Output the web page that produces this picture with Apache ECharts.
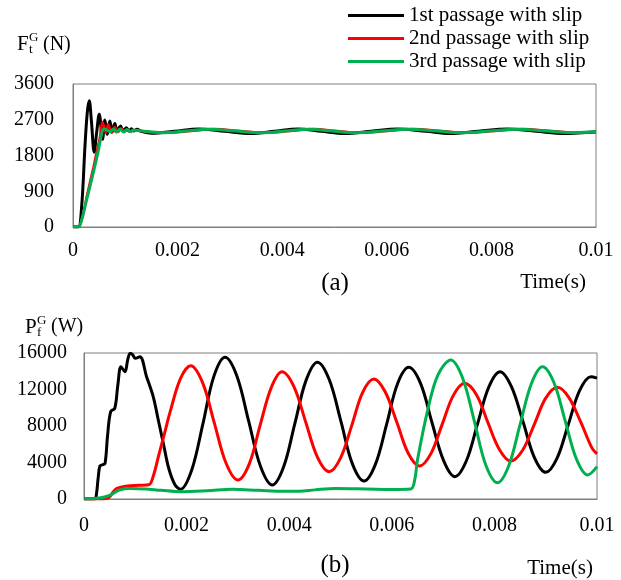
<!DOCTYPE html>
<html><head><meta charset="utf-8">
<script src="https://cdn.jsdelivr.net/npm/echarts@6/dist/echarts.min.js"></script>
<style>html,body{margin:0;padding:0;background:#fff}#c{width:621px;height:580px}</style>
</head><body><div id="c"></div>
<script>
const seriesNames = ['1st passage with slip', '2nd passage with slip', '3rd passage with slip'];
const seriesColors = ['#000000', '#ff0000', '#00b050'];

// (a) Ft^G (N) vs time (s)
const ftBlack = [[0,0],[0.0001,0],[0.000165,515],[0.000229,2036],[0.000273,2882],[0.000311,3178],[0.00035,2700],[0.000406,1884],[0.00045,2350],[0.000502,2839],[0.000565,2206],[0.00061,2695],[0.000654,2332],[0.000705,2670],[0.000749,2391],[0.0008,2603],[0.000844,2417],[0.000908,2543],[0.000959,2417],[0.001022,2501],[0.001067,2417],[0.001117,2476],[0.00116,2417],[0.001225,2459],[0.0013,2410],[0.0015,2360],[0.00195,2410],[0.0024,2470],[0.0029,2410],[0.0034,2355],[0.00385,2410],[0.0043,2470],[0.00475,2410],[0.0052,2355],[0.0057,2410],[0.0062,2465],[0.00675,2410],[0.0072,2355],[0.00775,2410],[0.0083,2465],[0.00885,2410],[0.0094,2355],[0.01,2400]];
const ftRed = [[0,0],[0.0001,0],[0.00018,250],[0.00026,750],[0.00039,1500],[0.00048,2050],[0.000514,2250],[0.000565,2645],[0.000629,2375],[0.000673,2586],[0.000737,2375],[0.0008,2520],[0.00086,2390],[0.00092,2480],[0.00098,2400],[0.00104,2450],[0.0011,2410],[0.0012,2430],[0.0014,2400],[0.0018,2370],[0.00225,2415],[0.0027,2465],[0.0032,2415],[0.0037,2370],[0.00415,2415],[0.0046,2465],[0.00505,2415],[0.0055,2370],[0.006,2415],[0.0065,2465],[0.00705,2415],[0.0075,2370],[0.00805,2415],[0.0086,2465],[0.00915,2415],[0.0097,2370],[0.01,2385]];
const ftGreen = [[0,0],[0.0001,0],[0.000165,177],[0.00026,685],[0.000387,1360],[0.000482,1910],[0.000546,2332],[0.00059,2476],[0.00065,2440],[0.000705,2400],[0.00077,2470],[0.00083,2385],[0.0009,2465],[0.00097,2390],[0.00103,2455],[0.0011,2395],[0.00115,2445],[0.0013,2420],[0.0017,2375],[0.00215,2415],[0.0026,2460],[0.0031,2415],[0.0036,2375],[0.00405,2415],[0.0045,2460],[0.00495,2415],[0.0054,2375],[0.0059,2415],[0.0064,2460],[0.00695,2415],[0.0074,2375],[0.00795,2415],[0.0085,2460],[0.00905,2415],[0.0096,2375],[0.01,2395]];

// (b) Pf^G (W) vs time (s)
const pfBlack = [[0,0],[0.0002,0],[0.000234,200],[0.00028,2500],[0.00031,3620],[0.00036,3750],[0.00041,3900],[0.00046,7000],[0.00052,9570],[0.0006,9940],[0.00066,12500],[0.00072,14500],[0.0008,13950],[0.00085,15200],[0.0009,15970],[0.00095,15800],[0.001,15420],[0.00109,15600],[0.00122,13400],[0.00135,11200],[0.00145,8600],[0.00155,6000],[0.00165,3400],[0.00177,1600],[0.00188,1060],[0.0021,3178],[0.00232,8295],[0.00253,13412],[0.00275,15530],[0.00298,13480],[0.00321,8530],[0.00344,3580],[0.00367,1530],[0.00389,3502],[0.00411,8265],[0.00433,13028],[0.00455,15000],[0.00478,13092],[0.00501,8485],[0.00523,3878],[0.00546,1970],[0.00568,3794],[0.0059,8200],[0.00611,12606],[0.00633,14430],[0.00656,12676],[0.00678,8440],[0.00701,4204],[0.00723,2450],[0.00745,4134],[0.00767,8200],[0.00789,12266],[0.00811,13950],[0.00833,12335],[0.00856,8435],[0.00878,4535],[0.009,2920],[0.00922,4454],[0.00944,8160],[0.00966,11866],[0.00988,13400],[0.01,13250]];
const pfRed = [[0,0],[0.0003,0],[0.00048,150],[0.00056,700],[0.00064,1170],[0.0009,1460],[0.00126,1550],[0.00135,2500],[0.00145,4640],[0.00157,7200],[0.00168,9570],[0.00188,13200],[0.00208,14610],[0.00231,12776],[0.00254,8345],[0.00277,3914],[0.003,2080],[0.00322,3818],[0.00343,8015],[0.00365,12212],[0.00386,13950],[0.00409,12345],[0.00432,8470],[0.00455,4595],[0.00478,2990],[0.005,4477],[0.00522,8070],[0.00543,11662],[0.00565,13150],[0.00587,11755],[0.0061,8385],[0.00632,5015],[0.00654,3620],[0.00676,4946],[0.00698,8150],[0.0072,11354],[0.00742,12680],[0.00765,11433],[0.00787,8420],[0.0081,5407],[0.00832,4160],[0.00855,5343],[0.00878,8200],[0.009,11057],[0.00923,12240],[0.00945,11136],[0.00968,8470],[0.0099,5600],[0.01,4950]];
const pfGreen = [[0,0],[0.0003,100],[0.0005,400],[0.0007,1000],[0.0009,1150],[0.0012,1100],[0.0015,950],[0.0019,800],[0.0024,900],[0.0029,1060],[0.0034,950],[0.0039,850],[0.0042,850],[0.0045,1000],[0.0049,1150],[0.0055,1100],[0.006,1050],[0.00637,1100],[0.00645,2200],[0.0065,4270],[0.0067,9750],[0.0069,13600],[0.00715,15230],[0.00738,13262],[0.00761,8510],[0.00783,3758],[0.00806,1790],[0.00828,3651],[0.0085,8145],[0.00872,12639],[0.00894,14500],[0.00916,12762],[0.00938,8565],[0.0096,4368],[0.00982,2630],[0.01,3540]];

const xMin = 0, xMax = 0.01, xStep = 0.002;
const ftMax = 3600, ftStep = 900;
const pfMax = 16000, pfStep = 4000;

const FONT = 'Liberation Serif';
const chart = echarts.init(document.getElementById('c'), null, {renderer: 'canvas'});

function xAxisCfg(gi, margin) {
  return {
    type: 'value', gridIndex: gi, min: xMin, max: xMax, interval: xStep,
    axisLine: {show: true, lineStyle: {color: '#7f7f7f', width: 1}},
    axisTick: {show: false}, splitLine: {show: false},
    axisLabel: {color: '#000', fontFamily: FONT, fontSize: 20, margin: margin,
      formatter: v => String(+v.toFixed(4))}
  };
}
function yAxisCfg(gi, max, step, margin) {
  return {
    type: 'value', gridIndex: gi, min: 0, max: max, interval: step,
    axisLine: {show: true, lineStyle: {color: '#7f7f7f', width: 1}},
    axisTick: {show: false}, splitLine: {show: false},
    axisLabel: {color: '#000', fontFamily: FONT, fontSize: 20, margin: margin,
      formatter: v => String(Math.round(v))}
  };
}
function lineSeries(name, color, data, gi, width) {
  return {
    name: name, type: 'line', xAxisIndex: gi, yAxisIndex: gi, data: data,
    showSymbol: false, symbol: 'none', smooth: 0.35, color: color,
    lineStyle: {color: color, width: width}, animation: false
  };
}
function txt(text, x, y, size, align) {
  return {type: 'text', style: {text: text, x: x, y: y, font: size + 'px "' + FONT + '"',
    fill: '#000', textAlign: align || 'left', textVerticalAlign: 'middle'}};
}

chart.setOption({
  animation: false,
  backgroundColor: '#fff',
  grid: [
    {left: 73, right: 25, top: 84, height: 143, show: true, borderColor: '#7f7f7f', borderWidth: 1, backgroundColor: 'transparent'},
    {left: 84, right: 24, top: 353, height: 146, show: true, borderColor: '#7f7f7f', borderWidth: 1, backgroundColor: 'transparent'}
  ],
  legend: {
    orient: 'vertical', left: 343, top: 0, itemWidth: 56, itemHeight: 3, itemGap: 2,
    icon: 'rect', data: seriesNames,
    textStyle: {color: '#000', fontFamily: FONT, fontSize: 21, lineHeight: 21}
  },
  xAxis: [xAxisCfg(0, 14), xAxisCfg(1, 17)],
  yAxis: [yAxisCfg(0, ftMax, ftStep, 19), yAxisCfg(1, pfMax, pfStep, 17)],
  series: [
    lineSeries(seriesNames[0], seriesColors[0], ftBlack, 0, 3),
    lineSeries(seriesNames[1], seriesColors[1], ftRed, 0, 2.5),
    lineSeries(seriesNames[2], seriesColors[2], ftGreen, 0, 3),
    lineSeries(seriesNames[0], seriesColors[0], pfBlack, 1, 3),
    lineSeries(seriesNames[1], seriesColors[1], pfRed, 1, 3),
    lineSeries(seriesNames[2], seriesColors[2], pfGreen, 1, 3)
  ],
  graphic: [
    txt('F', 17, 44.5, 21), txt('t', 29, 50, 13), txt('G', 29, 38, 13), txt('(N)', 43, 44.5, 20),
    txt('P', 25, 327, 21), txt('f', 37, 333, 13), txt('G', 37, 321, 13), txt('(W)', 51, 327, 20),
    txt('Time(s)', 553, 282, 21, 'center'), txt('(a)', 335, 283, 25, 'center'),
    txt('(b)', 335, 565, 25, 'center'), txt('Time(s)', 560, 568, 21, 'center')
  ]
});
</script></body></html>
